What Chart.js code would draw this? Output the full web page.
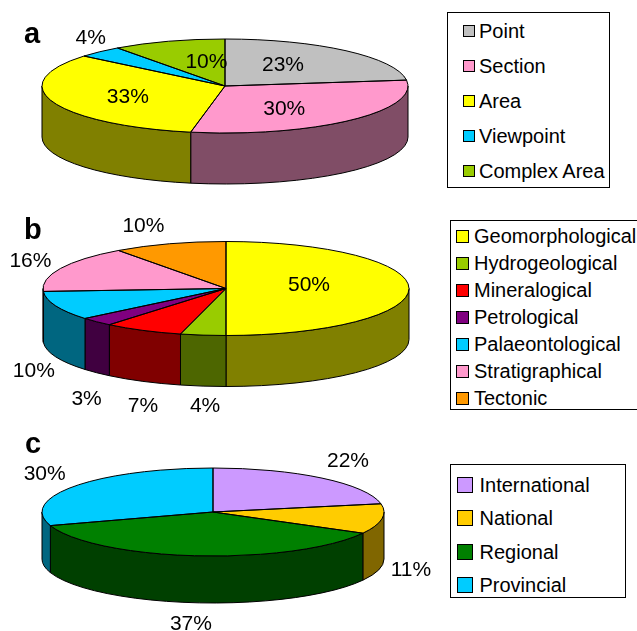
<!DOCTYPE html>
<html>
<head>
<meta charset="utf-8">
<title>Pie charts</title>
<script src="https://cdn.jsdelivr.net/npm/chart.js@4/dist/chart.umd.min.js"></script>
<style>
  html, body { margin: 0; padding: 0; width: 637px; height: 631px; overflow: hidden; background: #fff; }
  body { position: relative; font-family: "Liberation Sans", Arial, sans-serif; color: #000; }
  canvas { position: absolute; left: 0; top: 0; }
  .panel-letter { position: absolute; font-size: 29px; font-weight: bold; line-height: 30px; }
  .legend { position: absolute; box-sizing: border-box; border: 1px solid #000; background: #fff; }
  .legend-item { position: absolute; font-size: 20px; line-height: 24px; white-space: nowrap; }
  .legend-swatch { position: absolute; box-sizing: border-box; border: 1px solid #000; }
</style>
</head>
<body>
<canvas id="chart-a" width="637" height="631"></canvas>
<canvas id="chart-b" width="637" height="631"></canvas>
<canvas id="chart-c" width="637" height="631"></canvas>

<script>
const typeLabels = ["Point", "Section", "Area", "Viewpoint", "Complex Area"];
const typeValues = [23, 30, 33, 4, 10];
const typeColors = ["#C0C0C0", "#FF99CC", "#FFFF00", "#00CCFF", "#99CC00"];

const interestLabels = ["Geomorphological", "Hydrogeological", "Mineralogical", "Petrological", "Palaeontological", "Stratigraphical", "Tectonic"];
const interestValues = [50, 4, 7, 3, 10, 16, 10];
const interestColors = ["#FFFF00", "#99CC00", "#FF0000", "#800080", "#00CCFF", "#FF99CC", "#FF9900"];

const scaleLabels = ["International", "National", "Regional", "Provincial"];
const scaleValues = [22, 11, 37, 30];
const scaleColors = ["#CC99FF", "#FFCC00", "#008000", "#00CCFF"];

// label offsets are measured from the point on the rim at the middle of each slice
const panels = [
  {
    canvas: "chart-a", letter: "a", letterX: 24, letterY: 18,
    labels: typeLabels, values: typeValues, colors: typeColors,
    cx: 225, cy: 86, rx: 183, ry: 47, depth: 51,
    labelOffsets: [[-63, 14.5], [-66, -11.5], [75, -4.5], [-9, -13.5], [38, 20.5]],
    legend: { left: 447, top: 12, width: 163, height: 176, swatchX: 15, swatchSize: 12, textX: 31, firstY: 17.5, step: 35 },
  },
  {
    canvas: "chart-b", letter: "b", letterX: 24, letterY: 214,
    labels: interestLabels, values: interestValues, colors: interestColors,
    cx: 226, cy: 288.5, rx: 183, ry: 47, depth: 51,
    labelOffsets: [[-100, -3.5], [2, 71.5], [0, 75.5], [-10, 77.5], [-22, 65.5], [-30, -7], [-26, -17.5]],
    legend: { left: 450, top: 220, width: 200, height: 190, swatchX: 5, swatchSize: 13, textX: 23, firstY: 15, step: 27 },
  },
  {
    canvas: "chart-c", letter: "c", letterX: 25, letterY: 428,
    labels: scaleLabels, values: scaleValues, colors: scaleColors,
    cx: 213, cy: 512, rx: 171, ry: 44, depth: 47,
    labelOffsets: [[26, -16.5], [29, 51.5], [-6, 68.5], [-30, -11.5]],
    legend: { left: 450, top: 464, width: 176, height: 134, swatchX: 6, swatchSize: 16, textX: 28.5, firstY: 20, step: 33.3 },
  },
];

function shade(hex) {
  const channel = (i) => Math.round(parseInt(hex.slice(i, i + 2), 16) / 2);
  return `rgb(${channel(1)}, ${channel(3)}, ${channel(5)})`;
}

// Chart.js only draws round pies, so the slices get squashed here and
// the rim, outlines and labels are added from the arc elements.
const tiltedPie = {
  id: "tiltedPie",
  beforeDatasetsDraw(chart, args, opts) {
    const { ctx } = chart;
    const arcs = chart.getDatasetMeta(0).data;

    arcs.forEach((arc, i) => {
      const a0 = Math.max(arc.startAngle, 0);
      const a1 = Math.min(arc.endAngle, Math.PI);
      if (a1 <= a0) {
        return;
      }
      ctx.beginPath();
      ctx.ellipse(opts.cx, opts.cy, opts.rx, opts.ry, 0, a0, a1);
      ctx.ellipse(opts.cx, opts.cy + opts.depth, opts.rx, opts.ry, 0, a1, a0, true);
      ctx.closePath();
      ctx.fillStyle = shade(chart.data.datasets[0].backgroundColor[i]);
      ctx.fill();
      ctx.lineWidth = 1;
      ctx.strokeStyle = "#000";
      ctx.stroke();
    });

    ctx.save();
    ctx.translate(opts.cx, opts.cy);
    ctx.scale(1, opts.ry / opts.rx);
    ctx.translate(-arcs[0].x, -arcs[0].y);
  },
  afterDatasetsDraw(chart, args, opts) {
    const { ctx } = chart;
    ctx.restore();

    const arcs = chart.getDatasetMeta(0).data;
    ctx.lineWidth = 1;
    ctx.strokeStyle = "#000";
    arcs.forEach((arc) => {
      ctx.beginPath();
      ctx.moveTo(opts.cx, opts.cy);
      ctx.ellipse(opts.cx, opts.cy, opts.rx, opts.ry, 0, arc.startAngle, arc.endAngle);
      ctx.closePath();
      ctx.stroke();
    });

    ctx.fillStyle = "#000";
    ctx.font = '21px "Liberation Sans", Arial, sans-serif';
    ctx.textAlign = "center";
    ctx.textBaseline = "middle";
    arcs.forEach((arc, i) => {
      const mid = (arc.startAngle + arc.endAngle) / 2;
      const offset = opts.labelOffsets[i];
      const x = opts.cx + opts.rx * Math.cos(mid) + offset[0];
      const y = opts.cy + opts.ry * Math.sin(mid) + offset[1];
      ctx.fillText(`${chart.data.datasets[0].data[i]}%`, x, y);
    });
  },
};

function renderLegend(panel) {
  const { legend } = panel;
  const box = document.createElement("div");
  box.className = "legend";
  box.style.cssText = `left:${legend.left}px;top:${legend.top}px;width:${legend.width}px;height:${legend.height}px`;

  panel.labels.forEach((label, i) => {
    const y = legend.firstY + legend.step * i;
    const swatch = document.createElement("div");
    swatch.className = "legend-swatch";
    swatch.style.cssText = `left:${legend.swatchX}px;top:${y - legend.swatchSize / 2}px;width:${legend.swatchSize}px;height:${legend.swatchSize}px;background:${panel.colors[i]}`;
    box.appendChild(swatch);

    const text = document.createElement("div");
    text.className = "legend-item";
    text.textContent = label;
    text.style.cssText = `left:${legend.textX}px;top:${y - 12}px`;
    box.appendChild(text);
  });

  document.body.appendChild(box);
}

function renderPanel(panel) {
  const letter = document.createElement("div");
  letter.className = "panel-letter";
  letter.textContent = panel.letter;
  letter.style.cssText = `left:${panel.letterX}px;top:${panel.letterY}px`;
  document.body.appendChild(letter);

  renderLegend(panel);

  new Chart(document.getElementById(panel.canvas), {
    type: "pie",
    data: {
      labels: panel.labels,
      datasets: [
        {
          data: panel.values,
          backgroundColor: panel.colors,
          borderWidth: 0,
        },
      ],
    },
    options: {
      responsive: false,
      animation: false,
      radius: panel.rx,
      plugins: {
        legend: { display: false },
        tooltip: { enabled: false },
        tiltedPie: {
          cx: panel.cx,
          cy: panel.cy,
          rx: panel.rx,
          ry: panel.ry,
          depth: panel.depth,
          labelOffsets: panel.labelOffsets,
        },
      },
    },
    plugins: [tiltedPie],
  });
}

panels.forEach(renderPanel);
</script>
</body>
</html>
